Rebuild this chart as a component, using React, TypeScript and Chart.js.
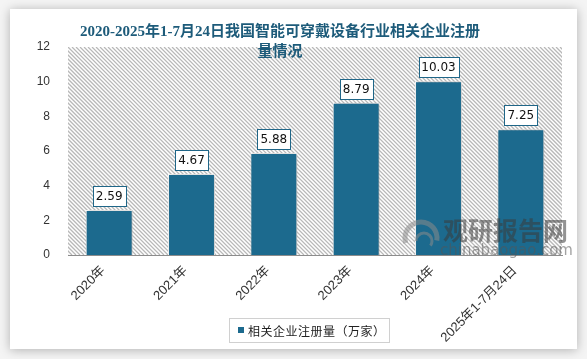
import React, { useEffect, useRef } from "react";
import { Chart, registerables } from "chart.js";

Chart.register(...registerables);

const CATEGORIES = ["2020年", "2021年", "2022年", "2023年", "2024年", "2025年1-7月24日"];
const VALUES = [2.59, 4.67, 5.88, 8.79, 10.03, 7.25];
const SERIES_LABEL = "相关企业注册量（万家）";
const TITLE_LINES = ["2020-2025年1-7月24日我国智能可穿戴设备行业相关企业注册", "量情况"];
const Y_MIN = 0;
const Y_MAX = 12;
const Y_STEP = 2;
const WATERMARK_CN = "观研报告网";
const WATERMARK_EN = "chinabaogao.com";

const BAR_COLOR = "#1c6a8e";
const TITLE_COLOR = "#1d5b7a";

const W = 587;
const H = 359;

export default function App() {
  const ref = useRef<HTMLCanvasElement | null>(null);

  useEffect(() => {
    document.body.style.margin = "0";
    const canvas = ref.current;
    if (!canvas) return;

    const hatchPlugin = {
      id: "hatchBg",
      beforeDatasetsDraw(chart: any) {
        const { ctx, chartArea } = chart;
        const { left, top, right, bottom } = chartArea;
        ctx.save();
        ctx.beginPath();
        ctx.rect(left, top, right - left, bottom - top);
        ctx.clip();
        ctx.strokeStyle = "#b8b8b8";
        ctx.lineWidth = 1.3;
        ctx.beginPath();
        const h = bottom - top;
        for (let x = left - h; x < right; x += 4) {
          ctx.moveTo(x, top);
          ctx.lineTo(x + h, bottom);
        }
        ctx.stroke();
        ctx.restore();
      },
      beforeDatasetDraw(chart: any) {
        const ctx = chart.ctx;
        ctx.save();
        ctx.shadowColor = "rgba(0,0,0,0.3)";
        ctx.shadowBlur = 4;
        ctx.shadowOffsetX = 1;
        ctx.shadowOffsetY = 0;
      },
      afterDatasetDraw(chart: any) {
        chart.ctx.restore();
      },
    };

    const labelsPlugin = {
      id: "boxLabels",
      afterDatasetsDraw(chart: any) {
        const { ctx } = chart;
        const meta = chart.getDatasetMeta(0);
        const data = chart.data.datasets[0].data as number[];
        ctx.save();
        ctx.font = '12px "DejaVu Sans", "Noto Sans", sans-serif';
        ctx.textAlign = "center";
        ctx.textBaseline = "middle";
        meta.data.forEach((bar: any, i: number) => {
          const txt = data[i].toFixed(2);
          const tw = ctx.measureText(txt).width;
          const bw = Math.round(tw + 6);
          const bh = 20;
          const x = Math.round(bar.x - bw / 2) + 0.5;
          const y = Math.round(bar.y - 4 - bh) + 0.5;
          ctx.fillStyle = "#ffffff";
          ctx.fillRect(x, y, bw, bh);
          ctx.strokeStyle = "#1f6688";
          ctx.lineWidth = 1;
          ctx.strokeRect(x, y, bw, bh);
          ctx.fillStyle = "#111111";
          ctx.fillText(txt, bar.x, y + bh / 2 + 0.5);
        });
        ctx.restore();
      },
    };

    const decorPlugin = {
      id: "decor",
      afterDraw(chart: any) {
        const { ctx } = chart;
        ctx.save();
        // title
        ctx.fillStyle = TITLE_COLOR;
        ctx.font = 'bold 15px "Liberation Serif", "Noto Sans CJK SC", serif';
        ctx.textAlign = "center";
        ctx.textBaseline = "middle";
        TITLE_LINES.forEach((line, i) => {
          ctx.fillText(line, 280, 32 + i * 20);
        });

        // legend
        const lx = 229.5, ly = 318.5, lw = 160, lh = 24;
        ctx.strokeStyle = "#d0d0d0";
        ctx.lineWidth = 1;
        ctx.strokeRect(lx, ly, lw, lh);
        ctx.fillStyle = BAR_COLOR;
        ctx.fillRect(238, 327, 6, 6);
        ctx.fillStyle = "#222222";
        ctx.font = '12px "Noto Sans CJK SC", sans-serif';
        ctx.textAlign = "left";
        ctx.textBaseline = "middle";
        const label = chart.data.datasets[0].label as string;
        let cx = 248;
        for (const ch of Array.from(label)) {
          ctx.fillText(ch, cx, 331);
          cx += ctx.measureText(ch).width + 0.5;
        }

        // watermark
        ctx.globalAlpha = 0.55;
        ctx.strokeStyle = "#8a8a8a";
        ctx.lineWidth = 5;
        ctx.beginPath();
        ctx.arc(421, 238, 16, Math.PI * 0.9, Math.PI * 2.05);
        ctx.stroke();
        ctx.lineWidth = 3;
        ctx.beginPath();
        ctx.arc(424, 241, 8, Math.PI * 1.0, Math.PI * 2.2);
        ctx.stroke();
        ctx.fillStyle = "#3a3a3a";
        ctx.font = 'bold 25px "Noto Sans CJK SC", sans-serif';
        ctx.textAlign = "left";
        ctx.textBaseline = "middle";
        ctx.fillText(WATERMARK_CN, 443, 230);
        ctx.fillStyle = "#555555";
        ctx.font = '15px "DejaVu Sans", sans-serif';
        ctx.fillText(WATERMARK_EN, 440, 251);
        ctx.restore();
      },
    };

    const chart = new Chart(canvas, {
      type: "bar",
      data: {
        labels: CATEGORIES,
        datasets: [
          {
            label: SERIES_LABEL,
            data: VALUES,
            backgroundColor: BAR_COLOR,
            borderColor: "#ffffff",
            borderWidth: 1,
            categoryPercentage: 1,
            barPercentage: 0.57,
          },
        ],
      },
      options: {
        animation: false,
        responsive: false,
        maintainAspectRatio: false,
        devicePixelRatio: 1,
        layout: { padding: { top: 47, right: 25, left: 0, bottom: 0 } },
        plugins: {
          legend: { display: false },
          title: { display: false },
          tooltip: { enabled: false },
        },
        scales: {
          x: {
            grid: { display: false, drawTicks: false },
            border: { display: true, color: "#8c8c8c", width: 1 },
            ticks: {
              minRotation: 45,
              maxRotation: 45,
              padding: 8,
              labelOffset: -6,
              color: "#333333",
              font: { size: 13, family: '"Liberation Sans", "Noto Sans CJK SC", sans-serif' },
              autoSkip: false,
            },
            afterFit(scale: any) {
              scale.height = H - 255;
            },
          },
          y: {
            min: Y_MIN,
            max: Y_MAX,
            grid: { display: false, drawTicks: false },
            border: { display: false },
            ticks: {
              stepSize: Y_STEP,
              padding: 18,
              color: "#333333",
              font: { size: 12, family: '"Liberation Sans", "DejaVu Sans", sans-serif' },
            },
            afterFit(scale: any) {
              scale.width = 68;
            },
          },
        },
      },
      plugins: [hatchPlugin, labelsPlugin, decorPlugin],
    });

    return () => chart.destroy();
  }, []);

  return (
    <div style={{ position: "relative", width: W, height: H, background: "#f4f4f4", overflow: "hidden" }}>
      <div
        style={{
          position: "absolute",
          left: 10,
          top: 9,
          width: 567,
          height: 340,
          background: "#ffffff",
          boxShadow: "0 1px 10px rgba(0,0,0,0.28)",
        }}
      />
      <canvas ref={ref} width={W} height={H} style={{ position: "absolute", left: 0, top: 0, width: W, height: H }} />
    </div>
  );
}
